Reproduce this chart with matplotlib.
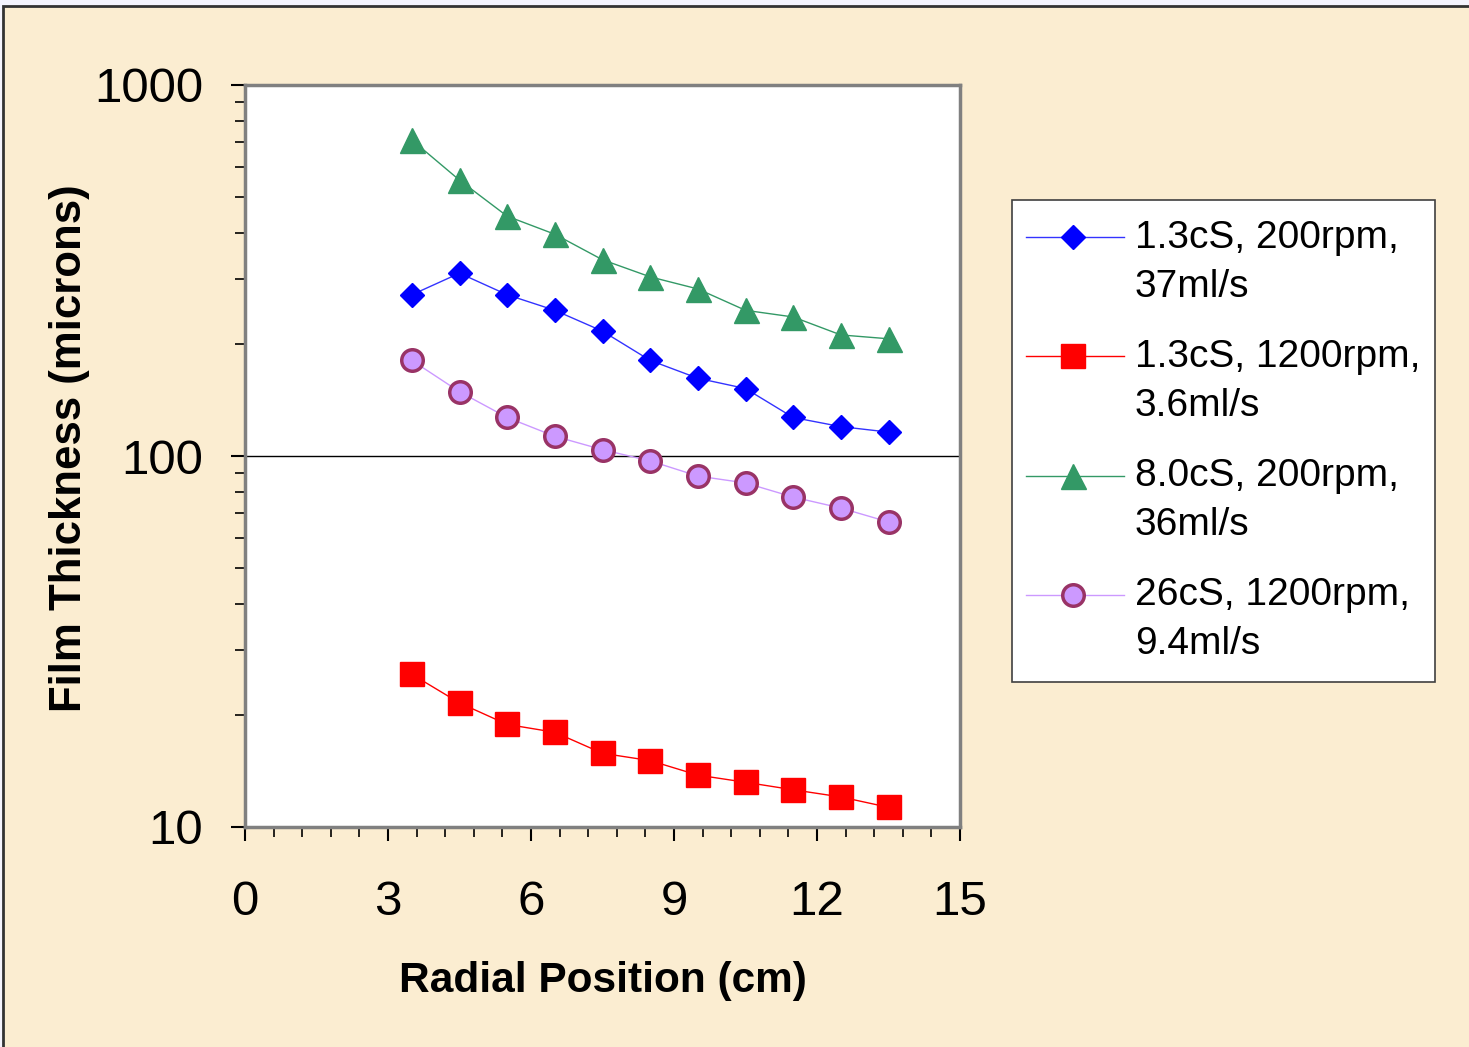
import matplotlib
matplotlib.use("Agg")
import matplotlib.pyplot as plt
from matplotlib.patches import Rectangle
from matplotlib.lines import Line2D
from matplotlib.ticker import FixedLocator, NullFormatter, LogLocator

plt.rcParams['font.family'] = ['Liberation Sans', 'DejaVu Sans']

radial = [3.5, 4.5, 5.5, 6.5, 7.5, 8.5, 9.5, 10.5, 11.5, 12.5, 13.5]
s_13_200 = [272, 311, 272, 247, 217, 181, 162, 152, 127, 120, 116]
s_13_1200 = [25.8, 21.6, 18.9, 18.0, 15.8, 15.1, 13.8, 13.2, 12.6, 12.05, 11.3]
s_80_200 = [711, 554, 443, 396, 338, 304, 282, 247, 237, 212, 207]
s_26_1200 = [181, 149, 127, 113, 104, 97, 88.3, 84.6, 77.5, 72.4, 66.4]

labels = [("1.3cS, 200rpm,", "37ml/s"), ("1.3cS, 1200rpm,", "3.6ml/s"),
          ("8.0cS, 200rpm,", "36ml/s"), ("26cS, 1200rpm,", "9.4ml/s")]
x_ticks = [0, 3, 6, 9, 12, 15]

W, H = 1469, 1047
fig = plt.figure(figsize=(W / 100, H / 100), dpi=100)
fig.patch.set_facecolor('#F4F4FE')
bg = Rectangle((3 / W, -0.01), 1, 1 - 6 / H + 0.01, transform=fig.transFigure,
               facecolor='#FBEDD1', edgecolor='#333333', linewidth=2, zorder=-10)
fig.add_artist(bg)

ax = fig.add_axes([245 / W, 220 / H, (960 - 245) / W, (827 - 85) / H])
ax.set_facecolor('white')
ax.set_yscale('log')
ax.set_xlim(0, 15)
ax.set_ylim(10, 1000)

styles = [
    dict(color='#3333FF', marker='D', ms=12.5, mfc='#0000FF', mec='#0000FF', mew=1),
    dict(color='#FF0000', marker='s', ms=17.5, mfc='#FF0000', mec='#FF0000', mew=1),
    dict(color='#339966', marker='^', ms=18, mfc='#339966', mec='#339966', mew=1),
    dict(color='#CC99FF', marker='o', ms=15.5, mfc='#CC99FF', mec='#993366', mew=2.5),
]
series = [s_13_200, s_13_1200, s_80_200, s_26_1200]
for ys, st in zip(series, styles):
    ax.plot(radial, ys, lw=1, zorder=3, clip_on=False, **st)

ax.axhline(100, color='black', lw=1, zorder=2)

for sp in ax.spines.values():
    sp.set_color('#808080')
    sp.set_linewidth(2.5)

ax.set_xticks(x_ticks)
ax.xaxis.set_minor_locator(FixedLocator([i * 0.6 for i in range(26)]))
ax.yaxis.set_major_locator(FixedLocator([10, 100, 1000]))
ax.set_yticklabels(['10', '100', '1000'])
ax.yaxis.set_minor_locator(LogLocator(base=10, subs=range(2, 10)))
ax.yaxis.set_minor_formatter(NullFormatter())

ax.tick_params(axis='x', which='major', direction='out', length=10, width=1.5,
               color='black', labelsize=35.5, pad=28)
ax.tick_params(axis='x', which='minor', direction='out', length=7, width=1.2, color='black')
ax.tick_params(axis='y', which='major', direction='out', length=10, width=1.5,
               color='black', labelsize=35.5, pad=20)
ax.tick_params(axis='y', which='minor', direction='out', length=7, width=1.2, color='black')

ax.set_xlabel('Radial Position (cm)', fontsize=30.5, fontweight='bold', labelpad=26)
ax.set_ylabel('Film Thickness (microns)', fontsize=31.5, fontweight='bold', labelpad=3)
ax.yaxis.label.set_y(0.511)

# legend drawn as figure artists (handles aligned with first label line)
def fx(px):
    return px / W

def fy(py):
    return 1 - py / H

frame = Rectangle((fx(1012), fy(682)), fx(1435) - fx(1012), fy(200) - fy(682),
                  transform=fig.transFigure, facecolor='white', edgecolor='#404040',
                  linewidth=1.2, zorder=5)
fig.add_artist(frame)
handle_y = [237, 356, 476, 595]
base_y = [248, 367, 486, 605]
for (l1, l2), st, hy, by in zip(labels, styles, handle_y, base_y):
    fig.add_artist(Line2D([fx(1026), fx(1124)], [fy(hy), fy(hy)], transform=fig.transFigure,
                          color=st['color'], lw=1, zorder=6))
    fig.add_artist(Line2D([fx(1073)], [fy(hy)], transform=fig.transFigure, linestyle='none',
                          marker=st['marker'], ms=st['ms'], mfc=st['mfc'], mec=st['mec'],
                          mew=st['mew'], zorder=7))
    fig.text(fx(1135), fy(by), l1, fontsize=28, va='baseline', ha='left', zorder=7)
    fig.text(fx(1135), fy(by + 49), l2, fontsize=28, va='baseline', ha='left', zorder=7)

fig.savefig('out.png', dpi=100, facecolor=fig.get_facecolor())
